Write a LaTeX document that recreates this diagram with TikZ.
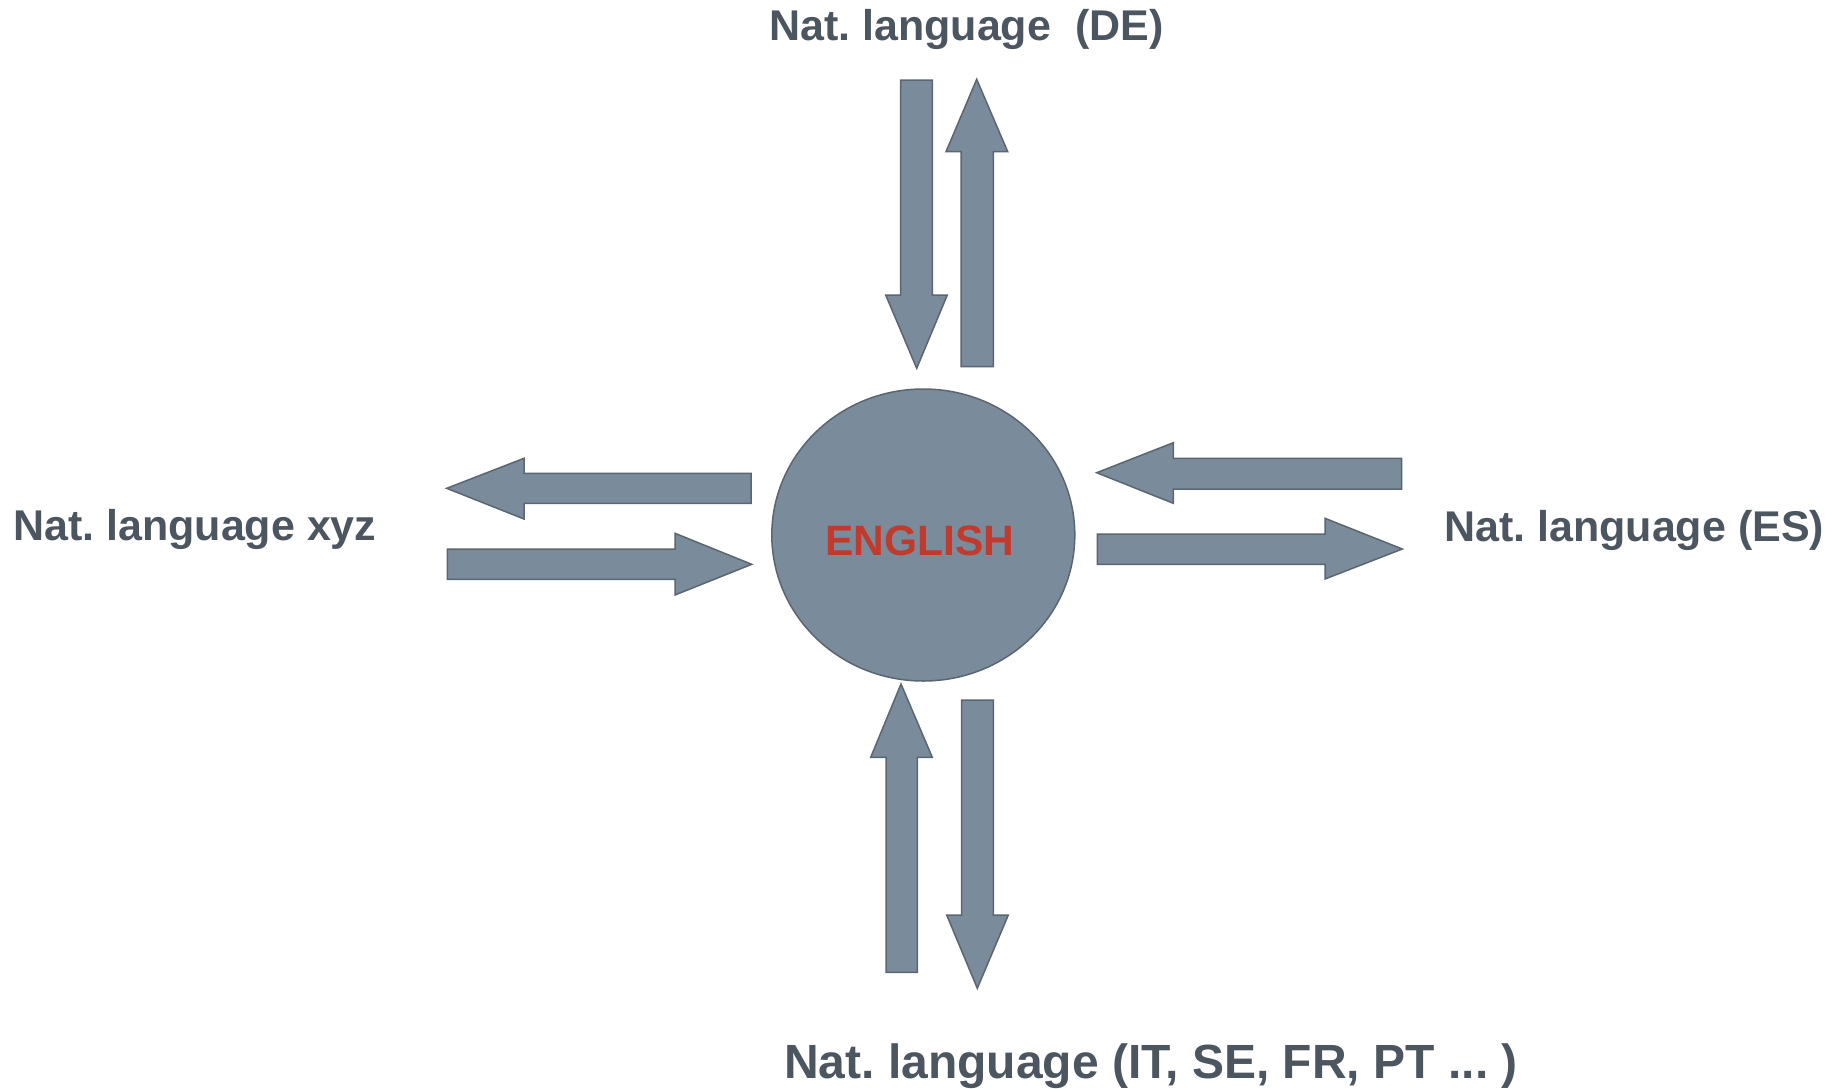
\documentclass[tikz,border=0pt]{standalone}
\usepackage{fontspec}
\setmainfont{Liberation Sans}
\usetikzlibrary{shapes.geometric}
\definecolor{arrfill}{HTML}{7A8B9C}
\definecolor{arrline}{HTML}{5A6670}
\definecolor{txtcol}{HTML}{4B5660}
\definecolor{engred}{HTML}{C23A2C}
\tikzset{
  barrow/.style={fill=arrfill,draw=arrline,line width=1.5pt,line join=miter},
  langlabel/.style={anchor=base west,inner sep=0pt,text=txtcol,font=\fontsize{43}{50}\selectfont\bfseries\frenchspacing},
  biglabel/.style={anchor=base west,inner sep=0pt,text=txtcol,font=\fontsize{48}{56}\selectfont\bfseries\frenchspacing},
  hub/.style={ellipse,fill=arrfill,draw=arrline,line width=1.5pt,inner sep=0pt,minimum width=303pt,minimum height=292pt},
  hubtext/.style={inner sep=0pt,text=engred,font=\fontsize{42.5}{50}\selectfont\bfseries}
}
\begin{document}
\begin{tikzpicture}[x=1pt,y=-1pt]
\useasboundingbox (0,0) rectangle (1840,1088);
% hub
\node[hub] (eng) at (923.3,535) {};
\node[hubtext] (engtxt) at (920,540.5) {ENGLISH};
% labels
\node[langlabel] (de) at (769,40.7) {Nat. language\ \ (DE)};
\node[langlabel] (xyz) at (13,540.7) {Nat. language xyz};
\node[langlabel] (es) at (1444,541) {Nat. language (ES)};
\node[biglabel] (it) at (784,1078.3) {Nat. language (IT, SE, FR, PT ... )};
% top pair
\draw[barrow] (900.7,80) -- (932.3,80) -- (932.3,295) -- (947.3,295) -- (916.7,368.3) -- (885.7,295) -- (900.7,295) -- cycle;
\draw[barrow] (961,366.7) -- (993.3,366.7) -- (993.3,151.7) -- (1007.7,151.7) -- (976.7,79.3) -- (946,151.7) -- (961,151.7) -- cycle;
% left pair
\draw[barrow] (751,473.3) -- (751,503.3) -- (524,503.3) -- (524,519) -- (446.7,488.3) -- (524,458.3) -- (524,473.3) -- cycle;
\draw[barrow] (447.3,549) -- (447.3,579.3) -- (675,579.3) -- (675,595) -- (751.7,564.3) -- (675,533.3) -- (675,549) -- cycle;
% right pair
\draw[barrow] (1401.7,458.3) -- (1401.7,489) -- (1173.3,489) -- (1173.3,503.3) -- (1096.7,472.7) -- (1173.3,442.7) -- (1173.3,458.3) -- cycle;
\draw[barrow] (1097.3,534) -- (1097.3,564.3) -- (1325,564.3) -- (1325,579) -- (1402.3,549) -- (1325,518.3) -- (1325,534) -- cycle;
% bottom pair
\draw[barrow] (886,972.3) -- (917.3,972.3) -- (917.3,757.3) -- (932.3,757.3) -- (901,684) -- (870.7,757.3) -- (886,757.3) -- cycle;
\draw[barrow] (961.7,700) -- (993.3,700) -- (993.3,915) -- (1008.3,915) -- (977.3,988.3) -- (946.7,915) -- (961.7,915) -- cycle;
\end{tikzpicture}
\end{document}
